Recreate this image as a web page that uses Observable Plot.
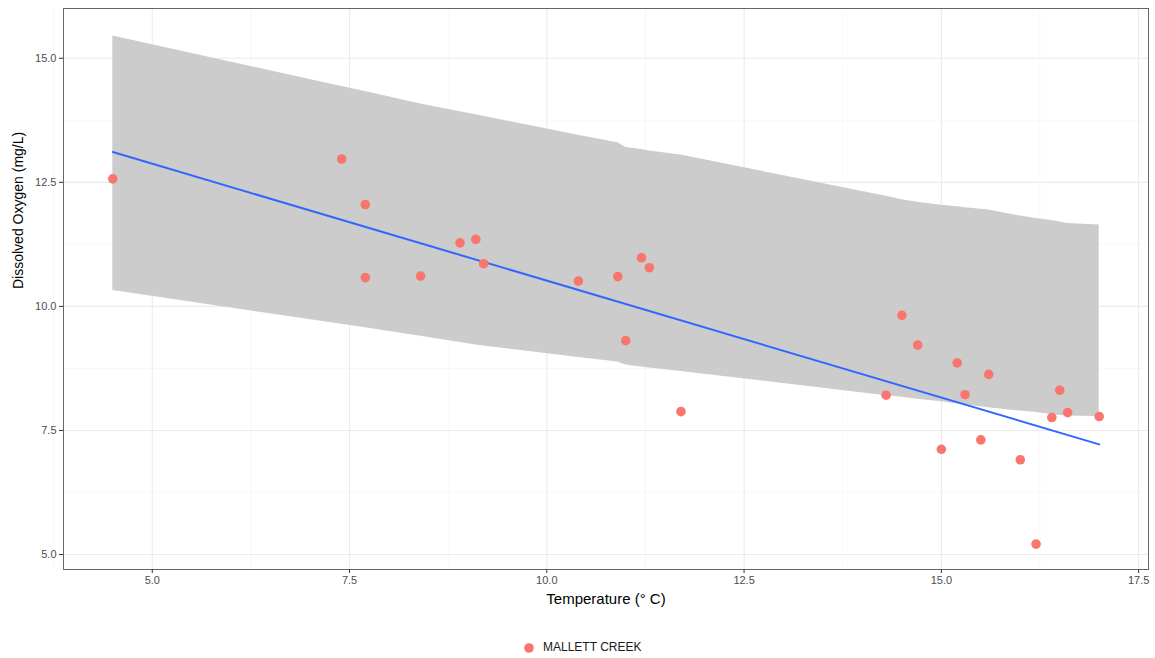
<!DOCTYPE html>
<html>
<head>
<meta charset="utf-8">
<script src="https://cdn.jsdelivr.net/npm/d3@7"></script>
<script src="https://cdn.jsdelivr.net/npm/@observablehq/plot@0.6"></script>
<style>
  html, body { margin: 0; padding: 0; background: #fff; }
  body { width: 1155px; height: 658px; position: relative; font-family: "Liberation Sans", Arial, sans-serif; }
  #legend { position: absolute; left: 0; top: 638px; width: 1155px; height: 20px; }
  #legend svg { position: absolute; left: 523px; top: 4px; }
  #legend span { position: absolute; left: 543px; top: 2px; font-size: 12px; color: #1a1a1a; }
</style>
</head>
<body>
<div id="chart"></div>
<div id="legend"></div>
<script>
// ---- data ----
const site = "MALLETT CREEK";
const temperature = [4.5, 7.4, 7.7, 7.7, 8.4, 8.9, 9.1, 9.2, 10.4, 10.9, 11.0, 11.2, 11.3, 11.7,
  14.3, 14.5, 14.7, 15.0, 15.2, 15.3, 15.5, 15.6, 16.0, 16.2, 16.4, 16.5, 16.6, 17.0];
const oxygen = [12.57, 12.97, 12.05, 10.58, 10.61, 11.28, 11.35, 10.86, 10.51, 10.60, 9.31, 10.98, 10.78, 7.88,
  8.21, 9.82, 9.22, 7.12, 8.86, 8.22, 7.31, 8.63, 6.91, 5.21, 7.76, 8.31, 7.86, 7.78];

// band (grey ribbon) edges at the observed temperatures
const bandX = [4.5, 7.4, 7.7, 8.4, 8.9, 9.1, 9.2, 10.4, 10.9, 11.0, 11.2, 11.3, 11.7,
  14.3, 14.5, 14.7, 15.0, 15.2, 15.3, 15.5, 15.6, 16.0, 16.2, 16.4, 16.5, 16.6, 17.0];
const bandLow = [10.32, 9.64, 9.57, 9.40, 9.27, 9.22, 9.20, 8.97, 8.88, 8.82, 8.78, 8.76, 8.69,
  8.20, 8.17, 8.13, 8.08, 8.04, 8.02, 7.98, 7.96, 7.89, 7.86, 7.82, 7.80, 7.79, 7.78];
const bandHigh = [15.45, 14.43, 14.33, 14.08, 13.92, 13.86, 13.83, 13.45, 13.30, 13.20, 13.16, 13.13, 13.05,
  12.22, 12.15, 12.10, 12.04, 12.01, 11.99, 11.96, 11.94, 11.82, 11.77, 11.73, 11.70, 11.67, 11.64];

// fitted linear trend (ends)
const fitX = [4.5, 17.0];
const fitY = [13.11, 7.22];

const xTicks = [5, 7.5, 10, 12.5, 15, 17.5];
const yTicks = [5, 7.5, 10, 12.5, 15];
const xMinor = [3.75, 6.25, 8.75, 11.25, 13.75, 16.25];
const yMinor = [6.25, 8.75, 11.25, 13.75];

const xTitle = "Temperature (\u00B0 C)";
const yTitle = "Dissolved Oxygen (mg/L)";

// ---- tables built from arrays ----
const points = temperature.map((t, i) => ({t, o: oxygen[i], site}));
const band = bandX.map((x, i) => ({x, lo: bandLow[i], hi: bandHigh[i]}));
const fit = fitX.map((x, i) => ({x, y: fitY[i]}));

const fmt = d3.format(".1f");
const pointColor = "#F8766D";

const chart = Plot.plot({
  width: 1155,
  height: 620,
  marginLeft: 63,
  marginRight: 7,
  marginTop: 8,
  marginBottom: 51,
  style: { fontFamily: "Liberation Sans, Arial, sans-serif", background: "#fff" },
  x: { domain: [3.875, 17.625] },
  y: { domain: [4.698, 16.003] },
  marks: [
    Plot.ruleX(xMinor, { stroke: "#f4f4f4", strokeWidth: 0.6 }),
    Plot.ruleY(yMinor, { stroke: "#f4f4f4", strokeWidth: 0.6 }),
    Plot.ruleX(xTicks, { stroke: "#ebebeb", strokeWidth: 1.1 }),
    Plot.ruleY(yTicks, { stroke: "#ebebeb", strokeWidth: 1.1 }),
    Plot.areaY(band, { x: "x", y1: "lo", y2: "hi", fill: "#cccccc", curve: "linear" }),
    Plot.line(fit, { x: "x", y: "y", stroke: "#3366FF", strokeWidth: 2 }),
    Plot.dot(points, { x: "t", y: "o", r: 4.8, fill: pointColor, stroke: null }),
    Plot.frame({ stroke: "#666", strokeWidth: 1 }),
    Plot.axisX(xTicks, { tickFormat: fmt, tickSize: 4, tickPadding: 3, fontSize: 11, color: "#4d4d4d", stroke: "#333", label: null }),
    Plot.axisY(yTicks, { tickFormat: fmt, tickSize: 4, tickPadding: 3, fontSize: 11, color: "#4d4d4d", stroke: "#333", label: null }),
    Plot.text([xTitle], { frameAnchor: "bottom", dy: 34, fontSize: 15, fill: "#000" }),
    Plot.text([yTitle], { frameAnchor: "left", dx: -45, rotate: -90, fontSize: 14, fill: "#000" })
  ]
});
document.getElementById("chart").appendChild(chart);

// legend below the chart
const legend = d3.select("#legend");
const ls = legend.append("svg").attr("width", 12).attr("height", 12);
ls.append("circle").attr("cx", 6).attr("cy", 6).attr("r", 4.8).attr("fill", pointColor);
legend.append("span").text(site);
</script>
</body>
</html>
